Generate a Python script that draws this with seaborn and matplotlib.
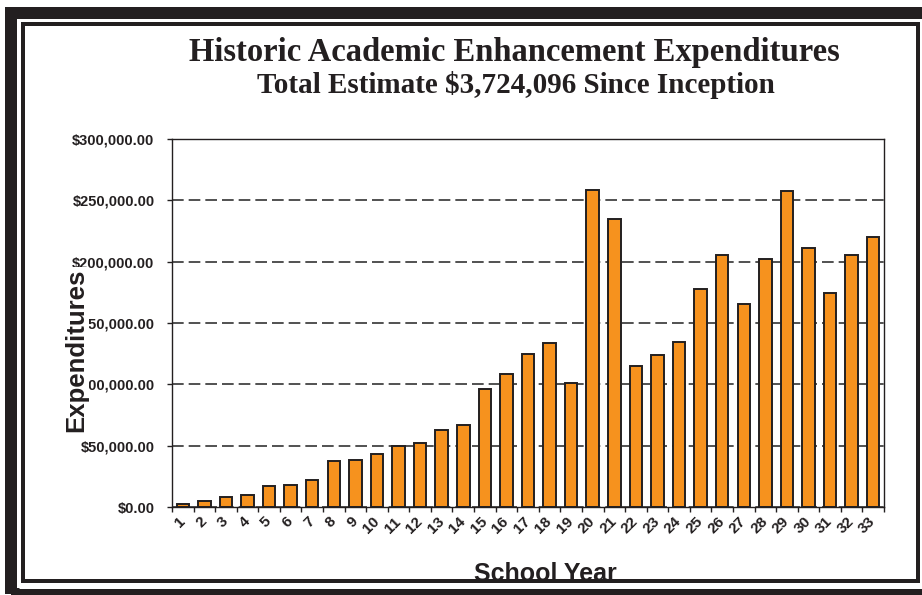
import numpy as np
import matplotlib.pyplot as plt
import seaborn as sns
from matplotlib.patches import Rectangle
from matplotlib.ticker import FuncFormatter

# Data
years = [str(i) for i in range(1, 34)]
expenditures = [
    2500, 4500, 8400, 9800, 16800, 17900, 22000, 37200, 38300, 43500,
    50000, 52400, 62800, 66600, 95900, 108200, 124500, 134000, 101400, 258400,
    234500, 115200, 123600, 134200, 178000, 205700, 165700, 202200, 257900, 210900,
    174200, 205200, 219900,
]
y_ticks = [0, 50000, 100000, 150000, 200000, 250000, 300000]
title = "Historic Academic Enhancement Expenditures"
subtitle = "Total Estimate $3,724,096 Since Inception"

sns.set_theme(style="white")
plt.rcParams["font.family"] = ["Liberation Sans", "DejaVu Sans"]

W, H = 922, 595
PT = 0.72  # points per pixel at 100 dpi
ink = "#231F20"

fig = plt.figure(figsize=(W / 100, H / 100), dpi=100)
fig.patch.set_facecolor("white")
ax = fig.add_axes([172 / W, 1 - 507 / H, 712 / W, 368 / H])

sns.barplot(
    x=years, y=expenditures, color="#F6921E", saturation=1,
    edgecolor=ink, linewidth=1.4, width=0.58, ax=ax,
)

ax.set_xlim(-0.5, 32.5)
ax.set_ylim(0, 300000)
ax.set_yticks(y_ticks)
ax.yaxis.set_major_formatter(FuncFormatter(lambda v, p: f"${v:,.2f}"))
ax.yaxis.grid(True, color="#333333", linestyle=(0, (7, 3)), linewidth=1.2)
ax.set_axisbelow(True)
for s in ax.spines.values():
    s.set_visible(True)
    s.set_color(ink)
    s.set_linewidth(1.0)

# y ticks
ax.tick_params(axis="y", left=True, length=5 * PT, width=1, color=ink, pad=9,
               labelsize=10.5, labelcolor=ink)
for t in ax.get_yticklabels():
    t.set_fontweight("bold")

# x: labels centered under bars, tick marks between categories (Excel style)
ax.set_xticks(range(len(years)), labels=years)
ax.set_xticks(np.arange(-0.5, len(years)), minor=True)
ax.tick_params(axis="x", which="major", bottom=True, length=0, pad=9,
               labelsize=11, labelcolor=ink)
ax.tick_params(axis="x", which="minor", bottom=True, length=5 * PT, width=1, color=ink)
for t in ax.get_xticklabels():
    t.set_fontweight("bold")
    t.set_rotation(45)
    t.set_ha("right")
    t.set_va("center")
    t.set_rotation_mode("anchor")

ax.set_xlabel("School Year", fontsize=18, fontweight="bold", color=ink)
ax.xaxis.set_label_coords((545 - 172) / 712, (507 - 562) / 368)
# the label sits on top of the tick labels, as in the original
ax.set_ylabel("Expenditures", fontsize=18.5, fontweight="bold", color=ink,
              bbox=dict(facecolor="white", edgecolor="none", pad=1))
ax.yaxis.label.set_va("center")
ax.yaxis.set_label_coords((76 - 172) / 712, (507 - 350) / 368)

# titles
fig.text(514 / W, 1 - 61 / H, title, ha="center", va="baseline",
         fontsize=23.5, fontweight="bold", family="Liberation Serif", color=ink)
fig.text(516 / W, 1 - 93 / H, subtitle, ha="center", va="baseline",
         fontsize=21, fontweight="bold", family="Liberation Serif", color=ink)


# page frame: thick outer band, white gap, thin inner line
def frame(x0, y0, x1, y1, lw_px, color, z):
    r = Rectangle((x0 / W, 1 - y1 / H), (x1 - x0) / W, (y1 - y0) / H,
                  transform=fig.transFigure, fill=False, edgecolor=color,
                  linewidth=lw_px * PT, zorder=z, clip_on=False)
    fig.patches.append(r)


frame(11, 13, 940, 594, 12, ink, 10)
frame(19, 20.5, 923, 585.5, 5, "white", 11)
frame(23, 24, 917.5, 581, 4, ink, 12)

fig.savefig("out.png", dpi=100)
